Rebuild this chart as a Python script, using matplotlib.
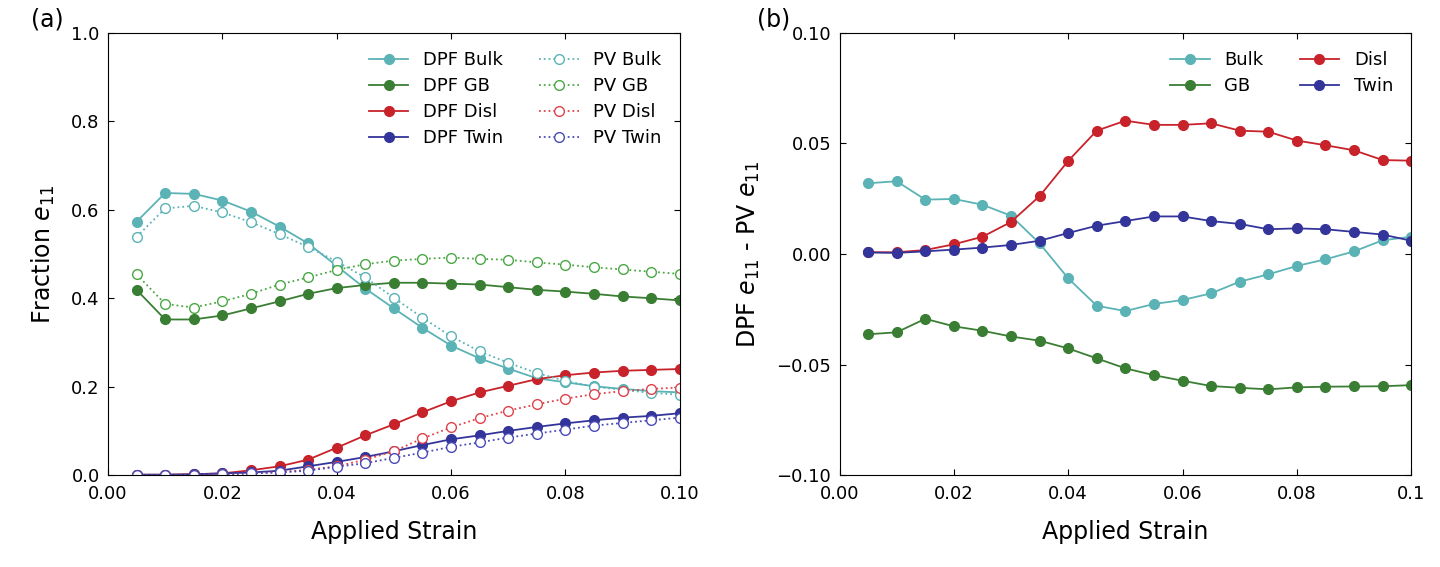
import matplotlib
matplotlib.use("Agg")
import matplotlib.pyplot as plt

# applied strain steps
strain = [0.005, 0.010, 0.015, 0.020, 0.025, 0.030, 0.035, 0.040, 0.045, 0.050,
          0.055, 0.060, 0.065, 0.070, 0.075, 0.080, 0.085, 0.090, 0.095, 0.100]

# (a) fraction of e11 - DPF (filled) and PV (open)
dpf_bulk = [0.573, 0.638, 0.636, 0.621, 0.596, 0.562, 0.524, 0.473, 0.422, 0.377,
            0.333, 0.293, 0.264, 0.241, 0.219, 0.210, 0.201, 0.195, 0.190, 0.187]
dpf_gb = [0.419, 0.352, 0.352, 0.361, 0.377, 0.393, 0.410, 0.423, 0.430, 0.435,
          0.435, 0.433, 0.431, 0.425, 0.419, 0.415, 0.410, 0.404, 0.400, 0.395]
dpf_disl = [0.001, 0.001, 0.002, 0.004, 0.011, 0.020, 0.035, 0.062, 0.090, 0.115,
            0.142, 0.167, 0.187, 0.202, 0.217, 0.226, 0.232, 0.236, 0.238, 0.240]
dpf_twin = [0.001, 0.001, 0.002, 0.004, 0.006, 0.010, 0.020, 0.030, 0.041, 0.054,
            0.068, 0.081, 0.090, 0.100, 0.109, 0.117, 0.124, 0.130, 0.134, 0.140]

pv_bulk = [0.539, 0.603, 0.609, 0.594, 0.572, 0.545, 0.516, 0.483, 0.447, 0.401,
           0.356, 0.314, 0.280, 0.254, 0.231, 0.213, 0.200, 0.193, 0.186, 0.182]
pv_gb = [0.454, 0.387, 0.379, 0.393, 0.410, 0.431, 0.447, 0.464, 0.477, 0.485,
         0.489, 0.492, 0.489, 0.487, 0.481, 0.476, 0.470, 0.465, 0.460, 0.455]
pv_disl = [0.000, 0.001, 0.001, 0.002, 0.004, 0.007, 0.012, 0.020, 0.035, 0.054,
           0.083, 0.108, 0.129, 0.146, 0.160, 0.173, 0.183, 0.190, 0.195, 0.198]
pv_twin = [0.000, 0.000, 0.001, 0.002, 0.004, 0.006, 0.010, 0.019, 0.027, 0.039,
           0.051, 0.064, 0.074, 0.085, 0.094, 0.103, 0.112, 0.118, 0.124, 0.130]

# (b) DPF e11 - PV e11
diff_bulk = [0.0320, 0.0329, 0.0246, 0.0249, 0.0223, 0.0173, 0.0048, -0.0110, -0.0234, -0.0258,
             -0.0226, -0.0208, -0.0178, -0.0125, -0.0092, -0.0054, -0.0024, 0.0012, 0.0062, 0.0078]
diff_gb = [-0.0363, -0.0354, -0.0293, -0.0327, -0.0347, -0.0373, -0.0392, -0.0427, -0.0472, -0.0517,
           -0.0548, -0.0573, -0.0597, -0.0605, -0.0612, -0.0603, -0.0600, -0.0599, -0.0598, -0.0593]
diff_disl = [0.0008, 0.0008, 0.0018, 0.0044, 0.0078, 0.0145, 0.0262, 0.0421, 0.0558, 0.0603,
             0.0584, 0.0584, 0.0591, 0.0558, 0.0553, 0.0513, 0.0492, 0.0469, 0.0425, 0.0422]
diff_twin = [0.0007, 0.0005, 0.0012, 0.0020, 0.0029, 0.0041, 0.0060, 0.0095, 0.0128, 0.0149,
             0.0170, 0.0170, 0.0149, 0.0136, 0.0112, 0.0116, 0.0112, 0.0100, 0.0088, 0.0060]

c_bulk = '#5bb3b5'
c_gb = '#3a7e34'
c_disl = '#c8232b'
c_twin = '#34359a'

plt.rcParams['font.family'] = ['DejaVu Sans']
plt.rcParams['xtick.direction'] = 'in'
plt.rcParams['ytick.direction'] = 'in'
plt.rcParams['xtick.top'] = True
plt.rcParams['ytick.right'] = True
plt.rcParams['xtick.major.size'] = 4
plt.rcParams['ytick.major.size'] = 4
plt.rcParams['xtick.major.pad'] = 7
plt.rcParams['ytick.major.pad'] = 6

fig = plt.figure(figsize=(14.4, 5.67), dpi=100)
ax1 = fig.add_axes([0.075, 0.162, 0.397, 0.780])
ax2 = fig.add_axes([0.583, 0.162, 0.397, 0.780])

ms = 7
lw = 1.3

# panel (a)
ax1.plot(strain, dpf_bulk, '-o', color=c_bulk, ms=ms, lw=lw, mec=c_bulk, label='DPF Bulk')
ax1.plot(strain, dpf_gb, '-o', color=c_gb, ms=ms, lw=lw, mec=c_gb, label='DPF GB')
ax1.plot(strain, dpf_disl, '-o', color=c_disl, ms=ms, lw=lw, mec=c_disl, label='DPF Disl')
ax1.plot(strain, dpf_twin, '-o', color=c_twin, ms=ms, lw=lw, mec=c_twin, label='DPF Twin')
ax1.plot(strain, pv_bulk, ':o', color=c_bulk, ms=ms, lw=lw, mfc='white', mec=c_bulk, label='PV Bulk')
ax1.plot(strain, pv_gb, ':o', color='#4aa844', ms=ms, lw=lw, mfc='white', mec='#4aa844', label='PV GB')
ax1.plot(strain, pv_disl, ':o', color='#e0424a', ms=ms, lw=lw, mfc='white', mec='#e0424a', label='PV Disl')
ax1.plot(strain, pv_twin, ':o', color='#4a4ab8', ms=ms, lw=lw, mfc='white', mec='#4a4ab8', label='PV Twin')

ax1.set_xlim(0, 0.1)
ax1.set_ylim(0, 1.0)
ax1.set_xticks([0.0, 0.02, 0.04, 0.06, 0.08, 0.10])
ax1.set_xticklabels(['0.00', '0.02', '0.04', '0.06', '0.08', '0.10'])
ax1.set_yticks([0.0, 0.2, 0.4, 0.6, 0.8, 1.0])
ax1.set_yticklabels(['0.0', '0.2', '0.4', '0.6', '0.8', '1.0'])
ax1.tick_params(labelsize=13)
ax1.set_xlabel('Applied Strain', fontsize=17, labelpad=12)
ax1.set_ylabel('Fraction $e_{11}$', fontsize=17, labelpad=10)
ax1.legend(loc='upper right', ncol=2, frameon=False, fontsize=13,
           handlelength=2.2, columnspacing=2.0, labelspacing=0.45,
           borderaxespad=0.6)
fig.text(0.033, 0.945, '(a)', fontsize=17, ha='center', va='bottom')

# panel (b)
ax2.plot(strain, diff_bulk, '-o', color=c_bulk, ms=ms, lw=lw, mec=c_bulk, label='Bulk')
ax2.plot(strain, diff_gb, '-o', color=c_gb, ms=ms, lw=lw, mec=c_gb, label='GB')
ax2.plot(strain, diff_disl, '-o', color=c_disl, ms=ms, lw=lw, mec=c_disl, label='Disl')
ax2.plot(strain, diff_twin, '-o', color=c_twin, ms=ms, lw=lw, mec=c_twin, label='Twin')

ax2.set_xlim(0, 0.1)
ax2.set_ylim(-0.1, 0.1)
ax2.set_xticks([0.0, 0.02, 0.04, 0.06, 0.08, 0.1])
ax2.set_xticklabels(['0.00', '0.02', '0.04', '0.06', '0.08', '0.1'])
ax2.set_yticks([-0.1, -0.05, 0.0, 0.05, 0.1])
ax2.set_yticklabels(['\u22120.10', '\u22120.05', '0.00', '0.05', '0.10'])
ax2.tick_params(labelsize=13)
ax2.set_xlabel('Applied Strain', fontsize=17, labelpad=12)
ax2.set_ylabel('DPF $e_{11}$ - PV $e_{11}$', fontsize=17, labelpad=10)
ax2.legend(loc='upper right', ncol=2, frameon=False, fontsize=13,
           handlelength=2.2, columnspacing=2.0, labelspacing=0.45,
           borderaxespad=0.6)
fig.text(0.537, 0.945, '(b)', fontsize=17, ha='center', va='bottom')

fig.savefig('out.png', dpi=100)
